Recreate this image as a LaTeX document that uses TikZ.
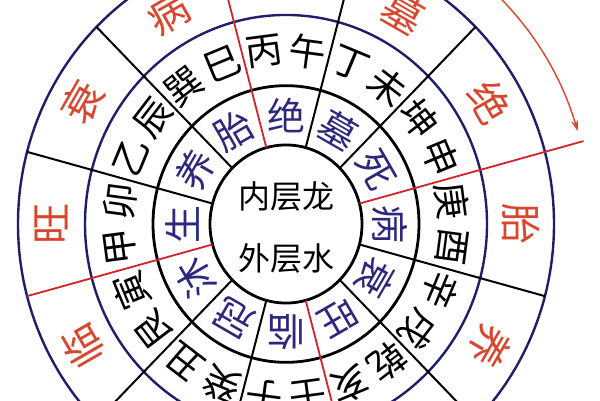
\documentclass[tikz,border=0pt]{standalone}
\usepackage{fontspec}
\setmainfont{Noto Sans CJK SC}
\usepackage{tikz}
\usetikzlibrary{arrows.meta}
\definecolor{navy}{RGB}{30,30,105}
\definecolor{stageblue}{RGB}{45,40,125}
\definecolor{stagered}{RGB}{218,70,45}
\definecolor{axisred}{RGB}{212,35,40}
\def\ringchar[#1](#2:#3)(#4)#5{\node[#1, rotate=#2-90] (#4) at (#2:#3) {#5};}
\tikzset{
	blackring/.style={line width=2.8pt, color=black},
	bluering/.style={line width=2.4pt, color=navy},
	spoke/.style={line width=2pt, color=black},
	redspoke/.style={line width=1.8pt, color=axisred},
	turnarrow/.style={line width=1.4pt, color=stagered, -{Stealth[length=11pt, width=7pt]}},
	stagechar/.style={text=stageblue, inner sep=0pt, font=\fontsize{38}{38}\selectfont},
	stemchar/.style={text=black, inner sep=0pt, font=\fontsize{37}{37}\selectfont},
	outerchar/.style={text=stagered, inner sep=0pt, font=\fontsize{41}{41}\selectfont},
	corechar/.style={text=black, inner sep=0pt, font=\fontsize{32}{32}\selectfont}
}

\begin{document}
\begin{tikzpicture}[x=1pt, y=1pt]
		%%%%% START %%%%%
		
		\useasboundingbox (0,0) rectangle (600,400);
		\fill[white] (0,0) rectangle (600,400);
		
		\begin{scope}[shift={(286,176)}, yscale=1.04]
		
		\draw[blackring] (0,0) circle (76);
		\draw[blackring] (0,0) circle (133);
		\draw[bluering] (0,0) circle (201);
		\draw[bluering] (0,0) circle (268);
		
		\draw[spoke] (45:76) -- (45:268);
		\draw[spoke] (75:76) -- (75:268);
		\draw[spoke] (135:76) -- (135:268);
		\draw[spoke] (165:76) -- (165:268);
		\draw[spoke] (225:76) -- (225:268);
		\draw[spoke] (255:76) -- (255:268);
		\draw[spoke] (315:76) -- (315:268);
		\draw[spoke] (345:76) -- (345:268);
		
		\draw[redspoke] (15:76) -- (15:308);
		\draw[redspoke] (105:76) -- (105:268);
		\draw[redspoke] (195:76) -- (195:268);
		\draw[redspoke] (285:76) -- (285:268);
		
		\draw[turnarrow] (62:305) arc (62:17:305);
		
		% twelve stages, inner ring
		\ringchar[stagechar](90:104)(s-jue){绝}
		\ringchar[stagechar](120:104)(s-tai){胎}
		\ringchar[stagechar](150:104)(s-yang){养}
		\ringchar[stagechar](180:104)(s-sheng){生}
		\ringchar[stagechar](210:104)(s-mu){沐}
		\ringchar[stagechar](240:104)(s-guan){冠}
		\ringchar[stagechar](270:104)(s-lin){临}
		\ringchar[stagechar](300:104)(s-wang){旺}
		\ringchar[stagechar](330:104)(s-shuai){衰}
		\ringchar[stagechar](0:104)(s-bing){病}
		\ringchar[stagechar](30:104)(s-si){死}
		\ringchar[stagechar](60:104)(s-muku){墓}
		
		% twenty-four mountains
		\ringchar[stemchar](97.5:167)(m-bing){丙}
		\ringchar[stemchar](82.5:167)(m-wu){午}
		\ringchar[stemchar](67.5:167)(m-ding){丁}
		\ringchar[stemchar](52.5:167)(m-wei){未}
		\ringchar[stemchar](37.5:167)(m-kun){坤}
		\ringchar[stemchar](22.5:167)(m-shen){申}
		\ringchar[stemchar](7.5:167)(m-geng){庚}
		\ringchar[stemchar](-7.5:167)(m-you){酉}
		\ringchar[stemchar](-22.5:167)(m-xin){辛}
		\ringchar[stemchar](-37.5:167)(m-xu){戌}
		\ringchar[stemchar](-52.5:167)(m-qian){乾}
		\ringchar[stemchar](-67.5:167)(m-hai){亥}
		\ringchar[stemchar](-82.5:167)(m-ren){壬}
		\ringchar[stemchar](-97.5:167)(m-zi){子}
		\ringchar[stemchar](-112.5:167)(m-gui){癸}
		\ringchar[stemchar](-127.5:167)(m-chou){丑}
		\ringchar[stemchar](-142.5:167)(m-gen){艮}
		\ringchar[stemchar](-157.5:167)(m-yin){寅}
		\ringchar[stemchar](-172.5:167)(m-jia){甲}
		\ringchar[stemchar](172.5:167)(m-mao){卯}
		\ringchar[stemchar](157.5:167)(m-yi){乙}
		\ringchar[stemchar](142.5:167)(m-chen){辰}
		\ringchar[stemchar](127.5:167)(m-xun){巽}
		\ringchar[stemchar](112.5:167)(m-si){巳}
		
		% twelve stages, outer ring
		\ringchar[outerchar](0:235)(o-tai){胎}
		\ringchar[outerchar](30:235)(o-jue){绝}
		\ringchar[outerchar](60:235)(o-muku){墓}
		\ringchar[outerchar](120:235)(o-bing){病}
		\ringchar[outerchar](150:235)(o-shuai){衰}
		\ringchar[outerchar](180:235)(o-wang){旺}
		\ringchar[outerchar](210:235)(o-lin){临}
		\ringchar[outerchar](330:235)(o-yang){养}
		
		\end{scope}
		
		\node[corechar] (core-dragon) at (286,204) {内层龙};
		\node[corechar] (core-water) at (286,142) {外层水};
		
		%%%%% END %%%%%
\end{tikzpicture}
\end{document}
